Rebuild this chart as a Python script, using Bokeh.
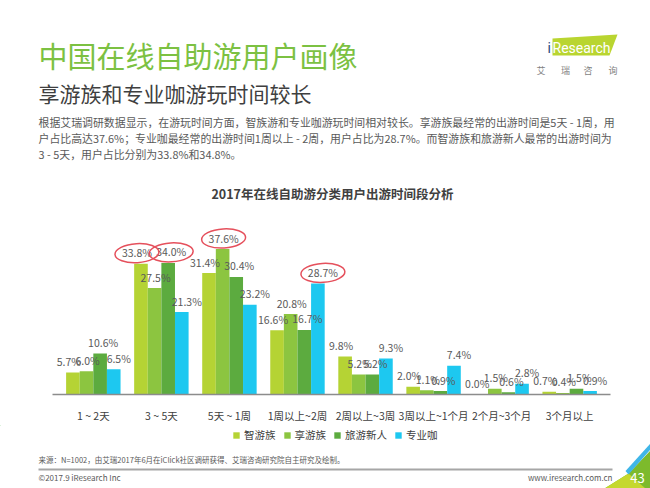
from bokeh.plotting import figure
from bokeh.models import Range1d, FactorRange, ColumnDataSource, Legend, LegendItem
from bokeh.transform import dodge
from bokeh.layouts import column
from bokeh.core.properties import value
from bokeh.embed import file_html
from bokeh.resources import INLINE

FONT = "Noto Sans CJK SC"

# ---------------- data ----------------
categories = ["1 ~ 2天", "3 ~ 5天", "5天 ~ 1周", "1周以上~2周", "2周以上~3周",
              "3周以上~1个月", "2个月~3个月", "3个月以上"]
series_names = ["智游族", "享游族", "旅游新人", "专业咖"]
zhiyou = [5.7, 33.8, 31.4, 16.6, 9.8, 2.0, 0.0, 0.7]
xiangyou = [6.0, 27.5, 37.6, 20.8, 5.2, 1.1, 1.5, 0.4]
xinren = [10.6, 34.0, 30.4, 16.7, 5.2, 0.9, 0.6, 1.5]
zhuanye = [6.5, 21.3, 23.2, 28.7, 9.3, 7.4, 2.8, 0.9]
series_values = [zhiyou, xiangyou, xinren, zhuanye]
colors = ["#b5d334", "#8cc540", "#5cab3f", "#1dc8f0"]

title_text = "中国在线自助游用户画像"
subtitle_text = "享游族和专业咖游玩时间较长"
para_lines = [
    "根据艾瑞调研数据显示，在游玩时间方面，智族游和专业咖游玩时间相对较长。享游族最经常的出游时间是5天 - 1周，用",
    "户占比高达37.6%；专业咖最经常的出游时间1周以上 - 2周，用户占比为28.7%。而智游族和旅游新人最常的出游时间为",
    "3 - 5天，用户占比分别为33.8%和34.8%。",
]
chart_title = "2017年在线自助游分类用户出游时间段分析"
source_text = "来源：N=1002，由艾瑞2017年6月在iClick社区调研获得、艾瑞咨询研究院自主研究及绘制。"
copyright_text = "©2017.9 iResearch Inc"
website_text = "www.iresearch.com.cn"
page_number = "43"
logo_chars = ["艾", "瑞", "咨", "询"]

W = 650
PX_PER_PCT = 4.02
FRAME_H = 186
CHART_BOTTOM = 425
PAGE_BOTTOM = 488


def blank(height, y0, y1):
    f = figure(width=W, height=height, x_range=Range1d(0, W), y_range=Range1d(y1, y0),
               x_axis_type=None, y_axis_type=None, toolbar_location=None,
               output_backend="svg", min_border=0)
    f.frame_align = False
    f.outline_line_color = None
    f.grid.visible = False
    return f


# ---------------- header ----------------
h = blank(215, 0, 215)
h.text(x=[38], y=[54], text=[title_text], text_font=value(FONT), text_font_size="29px",
       text_color="#7cc142", text_baseline="middle", text_align="left")
h.text(x=[38], y=[92], text=[subtitle_text], text_font=value(FONT), text_font_size="21px",
       text_color="#3f3f3f", text_baseline="middle", text_align="left")
h.text(x=[38, 38, 38], y=[121, 137, 153], text=para_lines, text_font=value(FONT),
       text_font_size="10.9px", text_color="#595959", text_baseline="middle", text_align="left")
h.text(x=[332], y=[193], text=[chart_title], text_font=value(FONT), text_font_size="12.5px",
       text_font_style="bold", text_color="#404040", text_baseline="middle", text_align="center")
# logo
h.patch(x=[552, 617, 609, 552], y=[38, 34, 55, 55], fill_color="#b9d530", line_color=None)
h.text(x=[547], y=[47], text=["i"], text_font=value("Roboto"), text_font_size="14px",
       text_color="#2b4a7c", text_baseline="middle", text_align="left")
h.text(x=[552], y=[47], text=["Research"], text_font=value("Roboto"), text_font_size="14px",
       text_color="white", text_baseline="middle", text_align="left")
h.text(x=[540.5, 565, 587.5, 612.5], y=[70] * 4, text=logo_chars, text_font=value(FONT),
       text_font_size="9px", text_color="#7f7f7f", text_baseline="middle", text_align="center")

# ---------------- chart ----------------
p = figure(width=W, height=CHART_BOTTOM - 215,
           x_range=FactorRange(factors=categories, range_padding=0.025),
           y_range=Range1d(0, FRAME_H / PX_PER_PCT),
           y_axis_type=None, toolbar_location=None, output_backend="svg",
           min_border_left=52, min_border_right=W - 610, min_border_top=0,
           min_border_bottom=CHART_BOTTOM - 401)
p.frame_align = False
p.outline_line_color = None
p.grid.visible = False

data = {"cat": categories}
for i, vals in enumerate(series_values):
    data[f"s{i}"] = vals
    data[f"l{i}"] = [f"{v:.1f}%" for v in vals]
src = ColumnDataSource(data)

offsets = [-0.3, -0.1, 0.1, 0.3]
label_dx = [-4, 1, 3, 5]
for i, name in enumerate(series_names):
    p.vbar(x=dodge("cat", offsets[i], range=p.x_range), top=f"s{i}", width=0.2, source=src,
           fill_color=colors[i], line_color=None)
for i, name in enumerate(series_names):
    p.text(x=dodge("cat", offsets[i] + label_dx[i] / 68, range=p.x_range), y=f"s{i}",
           text=f"l{i}", source=src, y_offset=-11, text_align="center", text_baseline="middle",
           text_font=value(FONT), text_font_size="10.5px", text_color="#595959")

# red hand-drawn style ellipses around each series' maximum
for i, vals in enumerate(series_values):
    k = vals.index(max(vals))
    esrc = ColumnDataSource({"cat": [categories[k]], "y": [vals[k] + 11 / PX_PER_PCT]})
    p.ellipse(x=dodge("cat", offsets[i] + label_dx[i] / 68, range=p.x_range), y="y",
              width=44, height=19, width_units="screen", height_units="screen", angle=0.06,
              source=esrc, fill_alpha=0, line_color="#e5505c", line_width=1.5)

ax = p.xaxis[0]
ax.axis_line_color = "#8c8c8c"
ax.axis_line_width = 1.5
ax.major_tick_line_color = None
ax.minor_tick_line_color = None
ax.major_label_standoff = 7
ax.major_label_text_font = FONT
ax.major_label_text_font_size = "10.5px"
ax.major_label_text_color = "#404040"

# ---------------- footer (legend, source, copyright) ----------------
ft = blank(PAGE_BOTTOM - CHART_BOTTOM, CHART_BOTTOM, PAGE_BOTTOM)
swatches = []
for i, name in enumerate(series_names):
    # legend swatches: renderers whose (dummy) bar lies outside the visible range
    swatches.append(ft.vbar(x=[-500], top=[0], bottom=[1], width=1,
                            fill_color=colors[i], line_color=None))
lg = Legend(items=[LegendItem(label=n, renderers=[r]) for n, r in zip(series_names, swatches)],
            orientation="horizontal", location=(232, PAGE_BOTTOM - 442))
lg.background_fill_alpha = 0
lg.border_line_alpha = 0
lg.padding = 0
lg.margin = 0
lg.spacing = 7
lg.glyph_width = 8
lg.glyph_height = 8
lg.label_standoff = 4
lg.label_height = 12
lg.label_text_font = FONT
lg.label_text_font_size = "10.5px"
lg.label_text_color = "#404040"
ft.add_layout(lg)

ft.text(x=[38], y=[459], text=[source_text], text_font=value(FONT), text_font_size="7.5px",
        text_color="#595959", text_baseline="middle", text_align="left")
ft.segment(x0=[38], y0=[469], x1=[612], y1=[469], line_color="#a6a6a6", line_width=2)
ft.text(x=[38], y=[477], text=[copyright_text], text_font=value(FONT), text_font_size="8px",
        text_color="#595959", text_baseline="middle", text_align="left")
ft.text(x=[612], y=[477], text=[website_text], text_font=value(FONT), text_font_size="8px",
        text_color="#595959", text_baseline="middle", text_align="right")
ft.patch(x=[604, 628, 650, 650], y=[488, 473, 450, 488], fill_color="#7dba2c", line_color=None)
ft.patch(x=[604, 628, 645], y=[488, 473, 488], fill_color="#c5d82e", line_color=None)
ft.patch(x=[625, 650, 650, 628], y=[470.5, 443, 449, 474], fill_color="#3fb6e8", line_color=None)
ft.text(x=[637], y=[477], text=[page_number], text_font=value(FONT), text_font_size="13px",
        text_color="white", text_baseline="middle", text_align="center")

layout = column(h, p, ft, spacing=0)
open("out.html", "w").write(file_html(layout, INLINE))
